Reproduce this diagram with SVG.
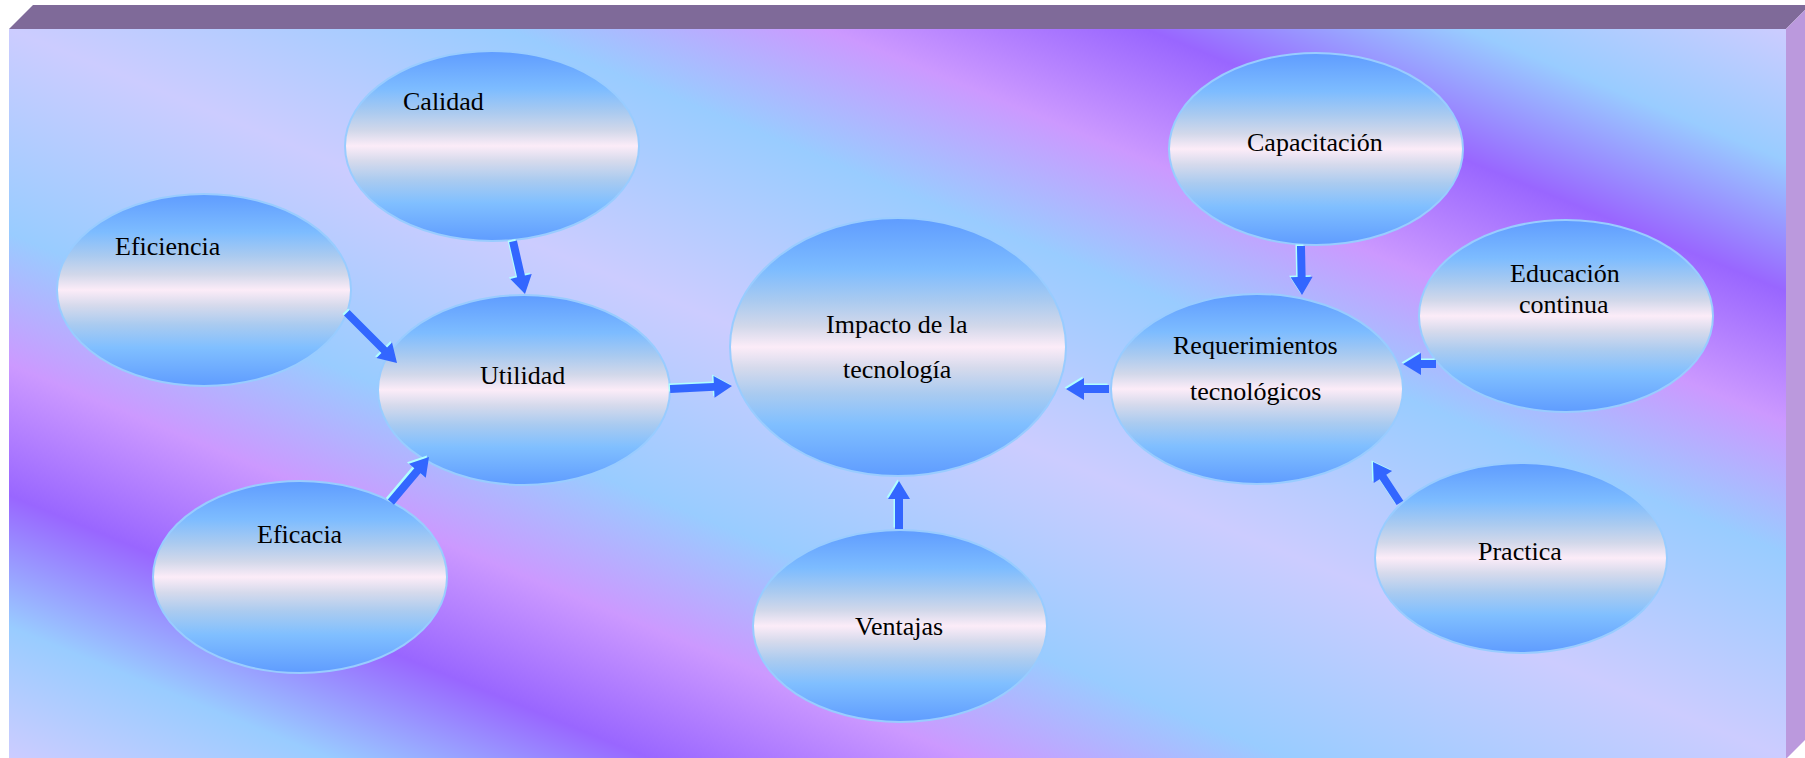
<svg xmlns="http://www.w3.org/2000/svg" width="1805" height="758" viewBox="0 0 1805 758">
  <defs>
    <linearGradient id="bg" x1="1" y1="0" x2="0" y2="1">
      <stop offset="0" stop-color="#ccccff"/>
      <stop offset="0.09" stop-color="#99ccff"/>
      <stop offset="0.18" stop-color="#9966ff"/>
      <stop offset="0.27" stop-color="#cc99ff"/>
      <stop offset="0.36" stop-color="#99ccff"/>
      <stop offset="0.5" stop-color="#ccccff"/>
      <stop offset="0.64" stop-color="#99ccff"/>
      <stop offset="0.73" stop-color="#cc99ff"/>
      <stop offset="0.82" stop-color="#9966ff"/>
      <stop offset="0.91" stop-color="#99ccff"/>
      <stop offset="1" stop-color="#ccccff"/>
    </linearGradient>
    <linearGradient id="nodefill" x1="0" y1="0" x2="0" y2="1">
      <stop offset="0" stop-color="#5f9cff"/>
      <stop offset="0.2" stop-color="#7dbcff"/>
      <stop offset="0.32" stop-color="#a9caf0"/>
      <stop offset="0.42" stop-color="#d2d8ea"/>
      <stop offset="0.5" stop-color="#fcecf8"/>
      <stop offset="0.58" stop-color="#d6daec"/>
      <stop offset="0.68" stop-color="#aacbf0"/>
      <stop offset="0.8" stop-color="#80bfff"/>
      <stop offset="1" stop-color="#5f9cff"/>
    </linearGradient>
    <path id="arrowShape" d="M0,0 L-18,-11 L-18,-4 L-100,-4 L-100,4 L-18,4 L-18,11 Z"/>
  </defs>
  <style>
    .node ellipse { fill: url(#nodefill); stroke: #99ccff; stroke-width: 2; }
    .node text { font-family: "Liberation Serif", "Times New Roman", serif; font-size: 26px; fill: #000000; }
    .arr { fill: #3366ff; }
    .hl { fill: #b0ffff; }
  </style>

  <!-- frame -->
  <g id="frame">
    <rect x="9" y="29" width="1777" height="729" fill="url(#bg)"/>
    <polygon points="9,29 33,5 1805,5 1805,10 1786,29" fill="#7f6a99"/>
    <polygon points="1786,29 1805,10 1805,740 1787,758 1786,758" fill="#bb99dd"/>
  </g>

  <!-- nodes -->
  <g id="calidad" class="node">
    <ellipse cx="492" cy="146" rx="147" ry="95"/>
    <text x="403" y="110">Calidad</text>
  </g>
  <g id="eficiencia" class="node">
    <ellipse cx="204" cy="290" rx="147" ry="96"/>
    <text x="115" y="255">Eficiencia</text>
  </g>
  <g id="utilidad" class="node">
    <ellipse cx="524" cy="390" rx="146" ry="95"/>
    <text x="480" y="384">Utilidad</text>
  </g>
  <g id="eficacia" class="node">
    <ellipse cx="300" cy="577" rx="147" ry="96"/>
    <text x="257" y="543">Eficacia</text>
  </g>
  <g id="impacto" class="node">
    <ellipse cx="898" cy="347" rx="168" ry="129"/>
    <text x="826" y="333">Impacto de la</text>
    <text x="843" y="378">tecnología</text>
  </g>
  <g id="ventajas" class="node">
    <ellipse cx="900" cy="626" rx="147" ry="96"/>
    <text x="855" y="635">Ventajas</text>
  </g>
  <g id="capacitacion" class="node">
    <ellipse cx="1316" cy="149" rx="147" ry="96"/>
    <text x="1247" y="151">Capacitación</text>
  </g>
  <g id="educacion" class="node">
    <ellipse cx="1566" cy="316" rx="147" ry="96"/>
    <text x="1510" y="282">Educación</text>
    <text x="1519" y="313">continua</text>
  </g>
  <g id="requerimientos" class="node">
    <ellipse cx="1257" cy="389" rx="146" ry="95"/>
    <text x="1173" y="354">Requerimientos</text>
    <text x="1190" y="400">tecnológicos</text>
  </g>
  <g id="practica" class="node">
    <ellipse cx="1521" cy="558" rx="146" ry="95"/>
    <text x="1478" y="560">Practica</text>
  </g>

  <!-- connectors -->
  <g id="connectors">
    <!-- Calidad -> Utilidad -->
    <path class="hl" d="M0,0 L-18,-11 L-18,-4 L-54,-4 L-54,4 L-18,4 L-18,11 Z" transform="translate(523.5,292.5) rotate(77.2)"/>
    <path class="arr" d="M0,0 L-18,-11 L-18,-4 L-54,-4 L-54,4 L-18,4 L-18,11 Z" transform="translate(525,294) rotate(77.2)"/>
    <!-- Eficiencia -> Utilidad -->
    <path class="hl" d="M0,0 L-18,-11 L-18,-4 L-71,-4 L-71,4 L-18,4 L-18,11 Z" transform="translate(395.5,361.5) rotate(45)"/>
    <path class="arr" d="M0,0 L-18,-11 L-18,-4 L-71,-4 L-71,4 L-18,4 L-18,11 Z" transform="translate(397,363) rotate(45)"/>
    <!-- Eficacia -> Utilidad -->
    <path class="hl" d="M0,0 L-18,-11 L-18,-4 L-59,-4 L-59,4 L-18,4 L-18,11 Z" transform="translate(427,455.5) rotate(-49.8)"/>
    <path class="arr" d="M0,0 L-18,-11 L-18,-4 L-59,-4 L-59,4 L-18,4 L-18,11 Z" transform="translate(429,457) rotate(-49.8)"/>
    <!-- Utilidad -> Impacto -->
    <path class="hl" d="M0,0 L-18,-11 L-18,-4 L-62,-4 L-62,4 L-18,4 L-18,11 Z" transform="translate(730.5,384.5) rotate(-2.8)"/>
    <path class="arr" d="M0,0 L-18,-11 L-18,-4 L-62,-4 L-62,4 L-18,4 L-18,11 Z" transform="translate(732,386) rotate(-2.8)"/>
    <!-- Ventajas -> Impacto -->
    <path class="hl" d="M0,0 L-18,-11 L-18,-4 L-48,-4 L-48,4 L-18,4 L-18,11 Z" transform="translate(897.5,479.5) rotate(-90)"/>
    <path class="arr" d="M0,0 L-18,-11 L-18,-4 L-48,-4 L-48,4 L-18,4 L-18,11 Z" transform="translate(899,481) rotate(-90)"/>
    <!-- Requerimientos -> Impacto -->
    <path class="hl" d="M0,0 L-18,-11 L-18,-4 L-43,-4 L-43,4 L-18,4 L-18,11 Z" transform="translate(1064.5,387.5) rotate(180)"/>
    <path class="arr" d="M0,0 L-18,-11 L-18,-4 L-43,-4 L-43,4 L-18,4 L-18,11 Z" transform="translate(1066,389) rotate(180)"/>
    <!-- Capacitacion -> Requerimientos -->
    <path class="hl" d="M0,0 L-18,-11 L-18,-4 L-49,-4 L-49,4 L-18,4 L-18,11 Z" transform="translate(1300.5,293.5) rotate(88.8)"/>
    <path class="arr" d="M0,0 L-18,-11 L-18,-4 L-49,-4 L-49,4 L-18,4 L-18,11 Z" transform="translate(1302,295) rotate(88.8)"/>
    <!-- Educacion -> Requerimientos -->
    <path class="hl" d="M0,0 L-18,-11 L-18,-4 L-33,-4 L-33,4 L-18,4 L-18,11 Z" transform="translate(1401.5,362.5) rotate(180)"/>
    <path class="arr" d="M0,0 L-18,-11 L-18,-4 L-33,-4 L-33,4 L-18,4 L-18,11 Z" transform="translate(1403,364) rotate(180)"/>
    <!-- Practica -> Requerimientos -->
    <path class="hl" d="M0,0 L-18,-11 L-18,-4 L-49,-4 L-49,4 L-18,4 L-18,11 Z" transform="translate(1371.5,460.5) rotate(-123.4)"/>
    <path class="arr" d="M0,0 L-18,-11 L-18,-4 L-49,-4 L-49,4 L-18,4 L-18,11 Z" transform="translate(1373,462) rotate(-123.4)"/>
  </g>
</svg>
